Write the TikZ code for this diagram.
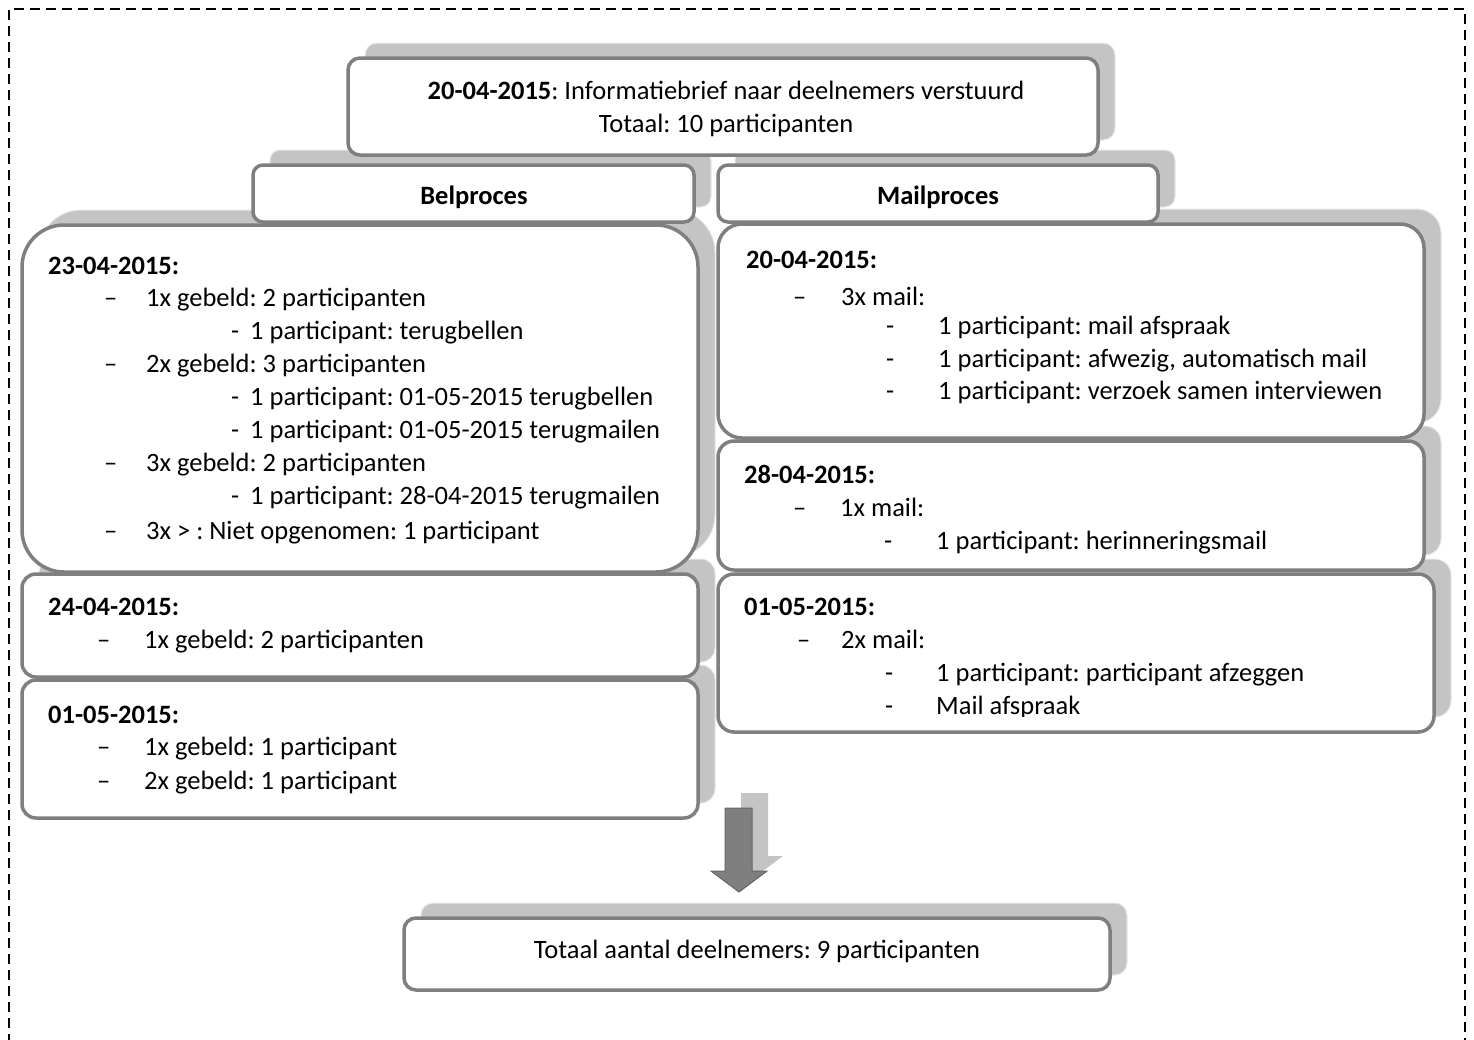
\documentclass[tikz,border=0pt]{standalone}
\usepackage{fontspec}
\setmainfont{Carlito}

\pgfdeclarelayer{shade}
\pgfsetlayers{shade,main}

\definecolor{edge}{HTML}{7F7F7F}
\definecolor{shadowfill}{HTML}{C4C4C4}
\definecolor{shadowedge}{HTML}{E8E8E8}
\definecolor{arrowfill}{HTML}{7F7F7F}
\definecolor{arrowedge}{HTML}{656565}

\newcommand\bodyfont{\fontsize{26.5}{33}\selectfont}

\tikzset{
  panelbox/.style={draw=edge, line width=3.5pt, fill=white, inner sep=0pt, outer sep=0pt},
  shadowbox/.style={fill=shadowfill, draw=shadowedge, line width=1pt},
  txt/.style={anchor=base west, inner sep=0pt, font=\bodyfont},
  ctxt/.style={anchor=base, inner sep=0pt, font=\bodyfont},
  head/.style={anchor=base west, inner sep=0pt, font=\bodyfont\bfseries},
  frame/.style={draw=black, line width=2.4pt, dash pattern=on 10pt off 6pt},
}

% panel with its offset shadow: name, x1, y1, x2, y2, corner radius
\newcommand\panel[6]{%
  \begin{pgfonlayer}{shade}
    \draw[shadowbox, rounded corners=#6] ({#2+17},{#3-15}) rectangle ({#4+17},{#5-15});
  \end{pgfonlayer}
  \node[panelbox, rounded corners=#6, minimum width={#4-#2}, minimum height={#5-#3}]
    (#1) at ({(#2+#4)/2},{(#3+#5)/2}) {};
}

\begin{document}
\frenchspacing
\begin{tikzpicture}[x=1pt, y=-1pt]
\useasboundingbox (0,0) rectangle (1474,1039);

% outer dashed frame (runs off the lower edge)
\draw[frame] (9,1060) -- (9,9) -- (1465,9) -- (1465,1060);

% panels
\panel{top}{348}{58}{1098}{155}{12}
\panel{bel}{253}{165}{694}{222}{10}
\panel{mail}{718}{165}{1158}{222}{10}
\panel{belA}{22}{225}{698}{572}{42}
\panel{belB}{22}{574}{698}{677}{14}
\panel{belC}{22}{680}{698}{818}{14}
\panel{mailA}{718}{224}{1424}{438}{24}
\panel{mailB}{718}{441}{1424}{570}{16}
\panel{mailC}{718}{574}{1434}{732}{16}
\panel{total}{404}{918}{1110}{990}{12}

% block arrow towards the total
\fill[shadowfill] (741,793) -- (768,793) -- (768,856) -- (783,856) -- (755,877)
  -- (727,856) -- (741,856) -- cycle;
\draw[fill=arrowfill, draw=arrowedge, line width=1pt] (725,808) -- (752,808) -- (752,871)
  -- (767,871) -- (739,892) -- (711,871) -- (725,871) -- cycle;

% heading texts
\node[ctxt] (t1) at (726,99) {\textbf{20-04-2015}: Informatiebrief naar deelnemers verstuurd};
\node[ctxt] (t2) at (726,132) {Totaal: 10 participanten};
\node[ctxt, font=\bodyfont\bfseries] (tb) at (474,204) {Belproces};
\node[ctxt, font=\bodyfont\bfseries] (tm) at (938,204) {Mailproces};
\node[ctxt] (tt) at (757,958) {Totaal aantal deelnemers: 9 participanten};

% Belproces, 23-04-2015
\node[head] (a0) at (48,274) {23-04-2015:};
\node[txt] (a1d) at (104,306) {–};  \node[txt] (a1) at (146,306) {1x gebeld: 2 participanten};
\node[txt] (a2d) at (231,339) {-};  \node[txt] (a2) at (250,339) {1 participant: terugbellen};
\node[txt] (a3d) at (104,372) {–};  \node[txt] (a3) at (146,372) {2x gebeld: 3 participanten};
\node[txt] (a4d) at (231,405) {-};  \node[txt] (a4) at (250,405) {1 participant: 01-05-2015 terugbellen};
\node[txt] (a5d) at (231,438) {-};  \node[txt] (a5) at (250,438) {1 participant: 01-05-2015 terugmailen};
\node[txt] (a6d) at (104,471) {–};  \node[txt] (a6) at (146,471) {3x gebeld: 2 participanten};
\node[txt] (a7d) at (231,504) {-};  \node[txt] (a7) at (250,504) {1 participant: 28-04-2015 terugmailen};
\node[txt] (a8d) at (104,539) {–};  \node[txt] (a8) at (146,539) {3x > : Niet opgenomen: 1 participant};

% Belproces, 24-04-2015
\node[head] (b0) at (48,615) {24-04-2015:};
\node[txt] (b1d) at (97,648) {–};  \node[txt] (b1) at (144,648) {1x gebeld: 2 participanten};

% Belproces, 01-05-2015
\node[head] (c0) at (48,723) {01-05-2015:};
\node[txt] (c1d) at (97,755) {–};  \node[txt] (c1) at (144,755) {1x gebeld: 1 participant};
\node[txt] (c2d) at (97,789) {–};  \node[txt] (c2) at (144,789) {2x gebeld: 1 participant};

% Mailproces, 20-04-2015
\node[head] (m0) at (746,268) {20-04-2015:};
\node[txt] (m1d) at (793,305) {–};  \node[txt] (m1) at (841,305) {3x mail:};
\node[txt] (m2d) at (886,334) {-};  \node[txt] (m2) at (938,334) {1 participant: mail afspraak};
\node[txt] (m3d) at (886,367) {-};  \node[txt] (m3) at (938,367) {1 participant: afwezig, automatisch mail};
\node[txt] (m4d) at (886,399) {-};  \node[txt] (m4) at (938,399) {1 participant: verzoek samen interviewen};

% Mailproces, 28-04-2015
\node[head] (n0) at (744,483) {28-04-2015:};
\node[txt] (n1d) at (793,516) {–};  \node[txt] (n1) at (840,516) {1x mail:};
\node[txt] (n2d) at (884,549) {-};  \node[txt] (n2) at (936,549) {1 participant: herinneringsmail};

% Mailproces, 01-05-2015 (last line is cut off by the panel's text area)
\node[head] (p0) at (744,615) {01-05-2015:};
\node[txt] (p1d) at (797,648) {–};  \node[txt] (p1) at (841,648) {2x mail:};
\node[txt] (p2d) at (885,681) {-};  \node[txt] (p2) at (936,681) {1 participant: participant afzeggen};
\begin{scope}
  \clip (720,690) rectangle (1430,716);
  \node[txt] (p3d) at (885,714) {-};  \node[txt] (p3) at (936,714) {Mail afspraak};
\end{scope}
\end{tikzpicture}
\end{document}
